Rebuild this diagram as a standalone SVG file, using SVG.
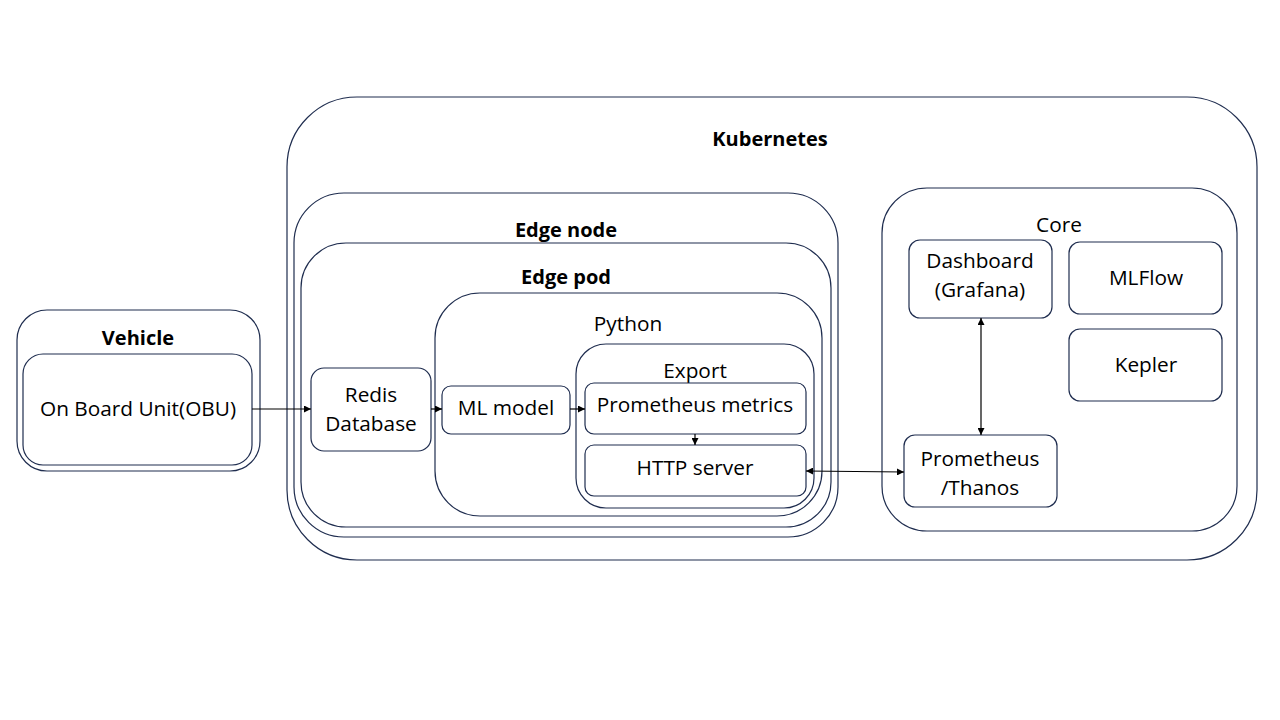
<svg xmlns="http://www.w3.org/2000/svg" width="1280" height="720" viewBox="0 0 1280 720">
<defs>
<style>
.box{fill:none;stroke:#1f2d4f;stroke-width:1.2}
.t{font-family:"Open Sans","Liberation Sans",sans-serif;font-size:20.8px;fill:#000;text-anchor:middle}
.b{font-weight:bold;font-size:20px}
.c{fill:none;stroke:#000;stroke-width:1.2}
</style>
<marker id="ah" viewBox="0 0 10 10" refX="10" refY="5" markerWidth="7" markerHeight="7" orient="auto-start-reverse" markerUnits="userSpaceOnUse">
<path d="M0,0 L10,5 L0,10 z" fill="#000"/>
</marker>
</defs>
<rect width="1280" height="720" fill="#fff"/>
<g id="kubernetes">
<rect class="box" x="287" y="97" width="970" height="463" rx="70"/>
<text class="t b" x="770" y="146">Kubernetes</text>
</g>
<g id="edge-node">
<rect class="box" x="294" y="193" width="544" height="344" rx="50"/>
<text class="t b" x="566" y="237">Edge node</text>
</g>
<g id="edge-pod">
<rect class="box" x="301" y="243" width="530" height="284" rx="45"/>
<text class="t b" x="566" y="284">Edge pod</text>
</g>
<g id="python">
<rect class="box" x="435" y="293" width="387" height="223" rx="45"/>
<text class="t" x="628" y="331">Python</text>
</g>
<g id="export">
<rect class="box" x="576" y="344" width="238" height="164" rx="30"/>
<text class="t" x="695" y="378">Export</text>
</g>
<g id="prometheus-metrics">
<rect class="box" x="585" y="383" width="221" height="51" rx="9"/>
<text class="t" x="695" y="412">Prometheus metrics</text>
</g>
<g id="http-server">
<rect class="box" x="585" y="445" width="221" height="51" rx="9"/>
<text class="t" x="695" y="475">HTTP server</text>
</g>
<g id="ml-model">
<rect class="box" x="442" y="386" width="128" height="48" rx="9"/>
<text class="t" x="506" y="415">ML model</text>
</g>
<g id="redis">
<rect class="box" x="311" y="368" width="120" height="83" rx="13"/>
<text class="t" x="371" y="402">Redis</text>
<text class="t" x="371" y="431">Database</text>
</g>
<g id="vehicle">
<rect class="box" x="17" y="310" width="243" height="161" rx="30"/>
<text class="t b" x="138" y="345">Vehicle</text>
</g>
<g id="obu">
<rect class="box" x="23" y="354" width="229" height="111" rx="20"/>
<text class="t" x="138" y="416">On Board Unit(OBU)</text>
</g>
<g id="core">
<rect class="box" x="882" y="188" width="355" height="343" rx="45"/>
<text class="t" x="1059" y="232">Core</text>
</g>
<g id="dashboard">
<rect class="box" x="909" y="240" width="143" height="78" rx="11"/>
<text class="t" x="980" y="268">Dashboard</text>
<text class="t" x="980" y="297">(Grafana)</text>
</g>
<g id="mlflow">
<rect class="box" x="1069" y="242" width="153" height="72" rx="11"/>
<text class="t" x="1146" y="285">MLFlow</text>
</g>
<g id="kepler">
<rect class="box" x="1069" y="329" width="153" height="72" rx="11"/>
<text class="t" x="1146" y="372">Kepler</text>
</g>
<g id="prometheus-thanos">
<rect class="box" x="904" y="435" width="153" height="72" rx="11"/>
<text class="t" x="980" y="466">Prometheus</text>
<text class="t" x="980" y="495">/Thanos</text>
</g>
<g id="connectors">
<line class="c" x1="252" y1="409" x2="311" y2="409" marker-end="url(#ah)"/>
<line class="c" x1="431" y1="409" x2="442" y2="409" marker-end="url(#ah)"/>
<line class="c" x1="570" y1="409" x2="585" y2="409" marker-end="url(#ah)"/>
<line class="c" x1="695" y1="434" x2="695" y2="445" marker-end="url(#ah)"/>
<line class="c" x1="806" y1="471" x2="904" y2="472" marker-start="url(#ah)" marker-end="url(#ah)"/>
<line class="c" x1="981" y1="318" x2="981" y2="435" marker-start="url(#ah)" marker-end="url(#ah)"/>
</g>
</svg>
